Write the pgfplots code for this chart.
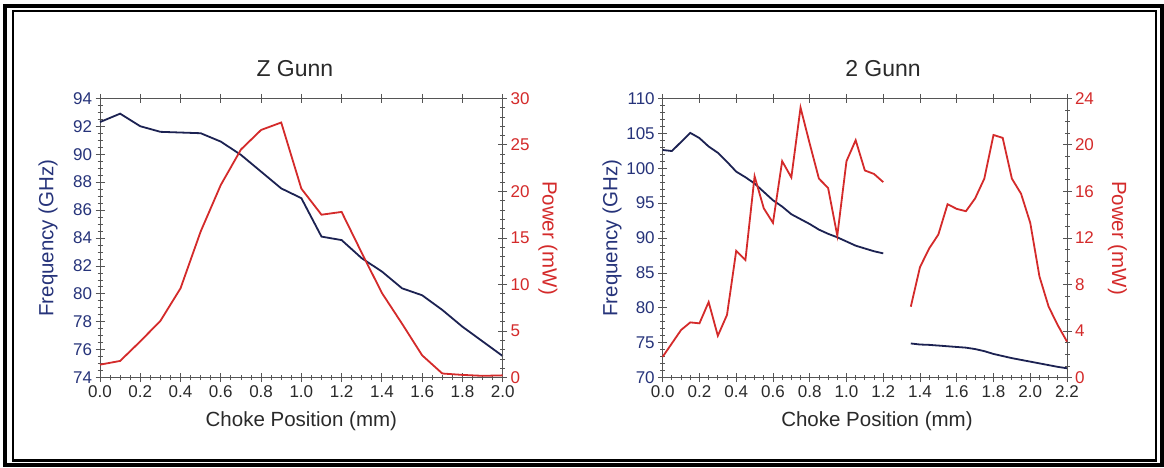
\documentclass[border=0pt]{standalone}
\usepackage{fontspec}
\setmainfont{Liberation Sans}
\usepackage{pgfplots}
\usepackage{pgfplotstable}
\pgfplotsset{compat=1.18}
\definecolor{navy}{HTML}{1C2252}
\definecolor{fblue}{HTML}{26337A}
\definecolor{pred}{HTML}{D42A2A}
\definecolor{axgray}{HTML}{555555}
\definecolor{txt}{HTML}{2A2A2A}

\pgfplotstableread{
x freq power
0.0 92.3 1.4
0.1 92.9 1.8
0.2 92.0 3.9
0.3 91.6 6.1
0.4 91.55 9.6
0.5 91.5 15.7
0.6 90.9 20.7
0.7 89.95 24.5
0.8 88.75 26.6
0.9 87.55 27.4
1.0 86.85 20.3
1.1 84.1 17.5
1.2 83.85 17.8
1.3 82.55 13.4
1.4 81.6 9.1
1.5 80.4 5.8
1.6 79.9 2.4
1.7 78.85 0.45
1.8 77.65 0.3
1.9 76.6 0.2
2.0 75.55 0.25
}\zgunn

\pgfplotstableread{
x freq power
0.0 102.6 1.8
0.05 102.45 2.95
0.1 103.75 4.1
0.15 105.05 4.75
0.2 104.3 4.67
0.25 103.1 6.5
0.3 102.2 3.6
0.35 100.9 5.4
0.4 99.5 10.9
0.45 98.7 10.1
0.5 97.8 17.3
0.55 96.6 14.55
0.6 95.4 13.3
0.65 94.5 18.6
0.7 93.4 17.2
0.75 92.7 23.2
0.8 92.0 20.1
0.85 91.2 17.1
0.9 90.6 16.3
0.95 90.1 12.2
1.0 89.5 18.6
1.05 88.9 20.4
1.1 88.5 17.8
1.15 88.1 17.5
1.2 87.8 16.8
}\twoa

\pgfplotstableread{
x freq power
1.35 74.9 6.1
1.4 74.75 9.5
1.45 74.7 11.1
1.5 74.6 12.3
1.55 74.5 14.9
1.6 74.4 14.5
1.65 74.3 14.3
1.7 74.1 15.4
1.75 73.8 17.1
1.8 73.4 20.85
1.85 73.1 20.6
1.9 72.8 17.1
1.95 72.55 15.8
2.0 72.3 13.3
2.05 72.05 8.7
2.1 71.8 6.1
2.15 71.55 4.5
2.2 71.35 3.1
}\twob

\tikzset{lblfont/.style={font=\fontsize{20.5}{22}\selectfont}}
\pgfplotsset{
  gunn/.style={
    scale only axis, anchor=south west,
    axis line style={axgray, line width=1pt, -},
    tick style={axgray, line width=0.8pt},
    minor tick style={axgray, line width=0.8pt},
    major tick length=9pt, minor tick length=5pt,
    tick align=center,
    tick label style={font=\fontsize{17}{17}\selectfont},
    /pgf/number format/assume math mode=true,
    clip=false,
  },
  xfmt/.style={xticklabel style={text=txt,/pgf/number format/.cd,fixed,fixed zerofill,precision=1}},
}

\begin{document}
\begin{tikzpicture}
\useasboundingbox (0,0) rectangle (1164pt,468pt);
\fill[white] (0,0) rectangle (1164pt,468pt);
\draw[black, line width=4.5pt] (5pt,3pt) rectangle (1162pt,462pt);
\draw[black, line width=2.2pt] (12.8pt,7.5pt) rectangle (1156pt,456.7pt);

% ---- Z Gunn: frequency
\begin{axis}[gunn, at={(100pt,90.3pt)}, width=402.7pt, height=279.4pt,
  xmin=0, xmax=2, ymin=74, ymax=94,
  axis x line*=bottom, axis y line*=left,
  xtick={0,0.2,0.4,0.6,0.8,1,1.2,1.4,1.6,1.8,2},
  minor xtick={0.05,0.1,0.15,0.25,0.3,0.35,0.45,0.5,0.55,0.65,0.7,0.75,0.85,0.9,0.95,1.05,1.1,1.15,1.25,1.3,1.35,1.45,1.5,1.55,1.65,1.7,1.75,1.85,1.9,1.95},
  ytick={74,76,78,80,82,84,86,88,90,92,94},
  minor ytick={74.5,75,75.5,76.5,77,77.5,78.5,79,79.5,80.5,81,81.5,82.5,83,83.5,84.5,85,85.5,86.5,87,87.5,88.5,89,89.5,90.5,91,91.5,92.5,93,93.5},
  xfmt, yticklabel style={text=fblue},
  xlabel={Choke Position (mm)}, ylabel={Frequency (GHz)},
  every axis x label/.style={at={(axis description cs:0.5,-0.155)}, anchor=center, text=txt, lblfont},
  every axis y label/.style={at={(axis description cs:-0.129,0.5)}, anchor=center, rotate=90, text=fblue, lblfont},
  title={Z Gunn},
  every axis title/.style={at={(axis description cs:0.484,1.108)}, anchor=center, font=\fontsize{23}{23}\selectfont, text=txt},
]
\addplot[navy, line width=1.8pt] table[x=x, y=freq] {\zgunn};
\end{axis}
% ---- Z Gunn: power
\begin{axis}[gunn, at={(100pt,90.3pt)}, width=402.7pt, height=279.4pt,
  xmin=0, xmax=2, ymin=0, ymax=30,
  axis x line*=top, axis y line*=right,
  xtick={0,0.2,0.4,0.6,0.8,1,1.2,1.4,1.6,1.8,2}, xticklabels={}, minor x tick num=0,
  ytick={0,5,10,15,20,25,30},
  minor ytick={1,2,3,4,6,7,8,9,11,12,13,14,16,17,18,19,21,22,23,24,26,27,28,29},
  yticklabel style={text=pred},
  ylabel={Power (mW)},
  every axis y label/.style={at={(axis description cs:1.1125,0.5)}, anchor=center, rotate=-90, text=pred, lblfont},
]
\addplot[pred, line width=1.8pt] table[x=x, y=power] {\zgunn};
\end{axis}

% ---- 2 Gunn: frequency
\begin{axis}[gunn, at={(662.7pt,90.3pt)}, width=404.3pt, height=279.4pt,
  xmin=0, xmax=2.2, ymin=70, ymax=110,
  axis x line*=bottom, axis y line*=left,
  xtick={0,0.2,0.4,0.6,0.8,1,1.2,1.4,1.6,1.8,2,2.2},
  minor xtick={0.05,0.1,0.15,0.25,0.3,0.35,0.45,0.5,0.55,0.65,0.7,0.75,0.85,0.9,0.95,1.05,1.1,1.15,1.25,1.3,1.35,1.45,1.5,1.55,1.65,1.7,1.75,1.85,1.9,1.95,2.05,2.1,2.15},
  ytick={70,75,80,85,90,95,100,105,110},
  minor ytick={71,72,73,74,76,77,78,79,81,82,83,84,86,87,88,89,91,92,93,94,96,97,98,99,101,102,103,104,106,107,108,109},
  xfmt, yticklabel style={text=fblue},
  xlabel={Choke Position (mm)}, ylabel={Frequency (GHz)},
  every axis x label/.style={at={(axis description cs:0.53,-0.155)}, anchor=center, text=txt, lblfont},
  every axis y label/.style={at={(axis description cs:-0.125,0.5)}, anchor=center, rotate=90, text=fblue, lblfont},
  title={2 Gunn},
  every axis title/.style={at={(axis description cs:0.545,1.108)}, anchor=center, font=\fontsize{23}{23}\selectfont, text=txt},
]
\addplot[navy, line width=1.8pt] table[x=x, y=freq] {\twoa};
\addplot[navy, line width=1.8pt] table[x=x, y=freq] {\twob};
\end{axis}
% ---- 2 Gunn: power
\begin{axis}[gunn, at={(662.7pt,90.3pt)}, width=404.3pt, height=279.4pt,
  xmin=0, xmax=2.2, ymin=0, ymax=24,
  axis x line*=top, axis y line*=right,
  xtick={0,0.2,0.4,0.6,0.8,1,1.2,1.4,1.6,1.8,2,2.2}, xticklabels={}, minor x tick num=0,
  ytick={0,4,8,12,16,20,24},
  minor ytick={1,2,3,5,6,7,9,10,11,13,14,15,17,18,19,21,22,23},
  yticklabel style={text=pred},
  ylabel={Power (mW)},
  every axis y label/.style={at={(axis description cs:1.125,0.5)}, anchor=center, rotate=-90, text=pred, lblfont},
]
\addplot[pred, line width=1.8pt] table[x=x, y=power] {\twoa};
\addplot[pred, line width=1.8pt] table[x=x, y=power] {\twob};
\end{axis}
\end{tikzpicture}
\end{document}
